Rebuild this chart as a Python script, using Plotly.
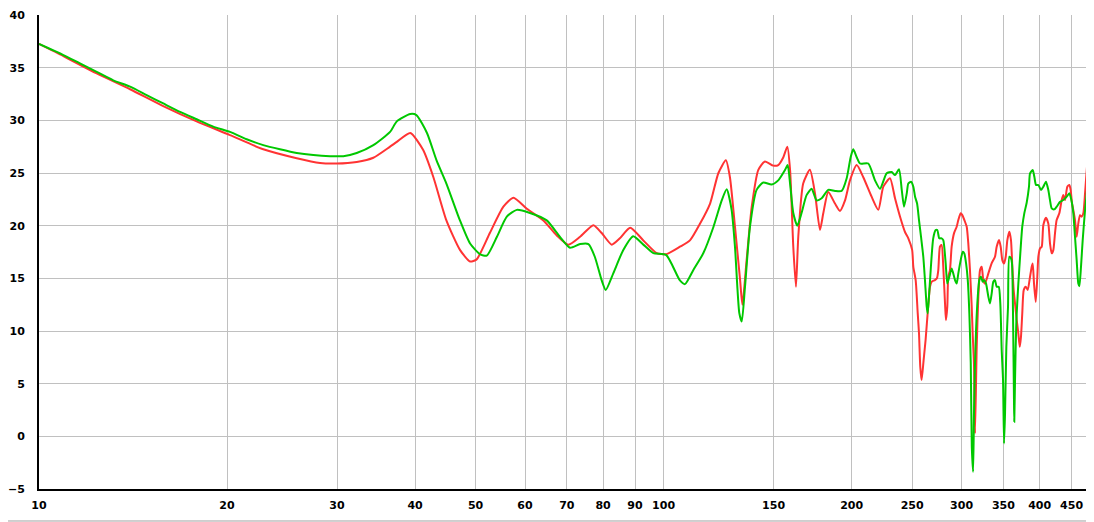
import plotly.graph_objects as go

# ---- data (frequency in Hz, level in dB) ----
red_freq = [10.0, 10.94, 12.37, 13.99, 15.81, 17.88, 20.22, 22.86, 25.86, 28.18,
            29.97, 32.26, 34.30, 36.48, 37.4, 39.3, 41.2, 42.8, 44.9, 47.2,
            49.0, 50.2, 52.7, 55.4, 57.5, 60.4, 64.2, 67.4, 70.4, 73.5,
            77.2, 79.6, 82.6, 85.1, 88.4, 92.8, 97.5, 101, 106.2, 110.2,
            114.4, 118.7, 122.4, 125.8, 127.7, 130.1, 132.6, 133.7, 135.8, 138.4,
            141.8, 145.3, 149.8, 152.6, 155.5, 157.8, 159.4, 161.3, 162.9, 164.3,
            167.3, 171.5, 174.7, 178.0, 180.2, 183.5, 188.1, 191.6, 195.2, 198.8,
            203.8, 208.8, 215.3, 220.7, 224.8, 230.4, 234.7, 239.1, 243.5, 246.5,
            250.0, 251.1, 253.3, 255.2, 256.4, 257.6, 258.9, 260.8, 262.7, 264.7,
            267.0, 268.6, 271.9, 273.9, 275.3, 277.0, 278.7, 280.4, 282.2, 283.2,
            284.6, 285.6, 287.4, 289.2, 291.7, 294.6, 296.4, 299.0, 300.8, 303.8,
            305.7, 307.5, 309.4, 311.4, 312.5, 314.0, 315.2, 317.2, 319.1, 321.1,
            323.1, 325.0, 327.0, 331.1, 335.1, 339.3, 341.4, 344.4, 346.5, 348.6,
            350.8, 353.0, 355.1, 357.7, 359.9, 361.7, 363.5, 365.3, 367.6, 369.8,
            371.7, 373.4, 375.2, 377.2, 380.0, 382.8, 386.1, 388.5, 389.9, 391.8,
            394.3, 396.6, 398.1, 400.6, 403.1, 405.5, 409.5, 413.0, 415.6, 418.2,
            420.7, 423.3, 425.9, 430.1, 433.9, 436.5, 439.2, 443.0, 446.3, 448.5,
            450.7, 452.9, 455.7, 458.5, 461.3, 464.2, 467.1, 469.9, 472.9, 475.9,
            478.6, 481.6, 484.6, 487.5, 495.0]
red_db = [37.25, 36.1, 34.45, 32.95, 31.35, 29.9, 28.6, 27.25, 26.4, 25.95,
          25.9, 26.05, 26.45, 27.5, 27.95, 28.8, 27.2, 24.6, 20.5, 17.7,
          16.6, 16.8, 19.3, 21.8, 22.65, 21.6, 20.5, 19.1, 18.2, 18.95,
          20.05, 19.3, 18.2, 18.8, 19.8, 18.6, 17.4, 17.3, 18.0, 18.6,
          20.2, 22.1, 25.0, 26.2, 24.6, 19.9, 14.8, 12.5, 16.7, 21.8,
          25.3, 26.1, 25.7, 25.75, 26.5, 27.5, 25.3, 18.0, 14.2, 18.95,
          24.0, 25.3, 23.1, 19.6, 21.2, 23.2, 22.1, 21.4, 22.4, 24.3,
          25.75, 24.6, 22.75, 21.5, 23.7, 24.5, 22.6, 20.85, 19.4, 18.8,
          17.7, 16.1, 14.8, 11.67, 9.77, 6.6, 5.34, 7.24, 9.14, 11.67,
          14.2, 14.67, 14.83, 15.0, 15.78, 18.0, 18.16, 16.1, 12.62, 11.03,
          12.3, 15.15, 15.78, 18.0, 19.27, 19.9, 20.53, 21.17, 21.0, 20.37,
          19.9, 18.32, 15.78, 12.3, 9.77, 6.92, 0.27, 8.5, 13.25, 15.78,
          16.1, 14.83, 14.5, 15.47, 16.42, 17.05, 18.0, 18.63, 18.0, 16.73,
          16.42, 17.05, 18.63, 19.42, 18.63, 16.1, 13.88, 12.62, 11.03, 9.77,
          8.5, 9.45, 11.67, 13.88, 14.2, 13.9, 15.15, 16.1, 16.42, 14.5,
          12.77, 15.15, 17.05, 17.84, 18.0, 20.06, 20.75, 20.2, 18.32, 17.37,
          17.68, 19.27, 20.53, 21.17, 22.43, 22.9, 22.43, 23.7, 23.86, 23.38,
          22.12, 21.48, 20.53, 18.95, 20.22, 21.0, 20.85, 21.17, 23.07, 25.28,
          27.18, 28.13, 28.5, 28.77, 29.2]

green_freq = [10.0, 10.94, 11.63, 12.37, 13.15, 13.99, 14.87, 15.81, 16.82, 17.88,
              19.01, 20.22, 21.50, 22.86, 24.31, 25.86, 27.49, 29.24, 30.71, 32.26,
              34.30, 36.48, 37.4, 39.3, 40.2, 41.8, 43.3, 44.9, 47.2, 49.0,
              50.8, 52.1, 54.1, 56.1, 58.2, 61.1, 65.0, 68.2, 70.8, 73.5,
              75.8, 77.6, 79.6, 80.8, 83.1, 86.2, 89.4, 92.8, 96.3, 101,
              106.2, 108.2, 111.6, 115.8, 120.2, 123.9, 126.2, 128.5, 130.1, 132.2,
              133.4, 135.0, 137.5, 140.9, 144.4, 148.9, 152.6, 156.5, 158.0, 159.4,
              161.3, 163.7, 166.3, 169.4, 172.6, 175.8, 179.1, 183.5, 188.1, 192.8,
              196.4, 199.3, 201.2, 203.8, 206.3, 212.7, 218.0, 222.1, 227.6, 231.8,
              234.7, 238.2, 240.6, 242.6, 245.1, 246.5, 249.0, 251.1, 252.7, 254.6,
              256.4, 258.3, 260.5, 262.1, 263.8, 264.7, 266.0, 267.9, 270.2, 272.6,
              274.3, 276.3, 278.7, 280.4, 282.9, 284.6, 286.7, 289.2, 290.9, 292.8,
              294.6, 296.4, 299.0, 301.3, 303.0, 305.0, 306.9, 308.7, 310.3, 311.5,
              313.0, 314.0, 315.2, 316.4, 318.4, 320.2, 322.2, 324.3, 326.2, 328.3,
              331.1, 333.1, 335.2, 337.2, 339.3, 341.4, 344.0, 346.0, 347.8, 349.5,
              350.8, 352.1, 353.8, 356.0, 357.7, 359.9, 361.3, 362.6, 363.9, 364.3,
              365.3, 367.0, 369.8, 372.5, 375.2, 378.0, 381.4, 384.6, 386.1, 389.9,
              392.3, 394.7, 398.1, 402.1, 405.5, 409.5, 413.0, 415.6, 418.2, 422.2,
              425.9, 431.3, 436.5, 442.0, 446.3, 450.2, 452.9, 455.7, 458.5, 461.3,
              463.1, 465.9, 468.8, 472.9, 475.9, 478.6, 481.6, 484.6, 488.8, 495.0]
green_db = [37.25, 36.2, 35.4, 34.6, 33.8, 33.2, 32.4, 31.6, 30.8, 30.1,
            29.4, 28.9, 28.2, 27.65, 27.25, 26.9, 26.7, 26.6, 26.6, 26.9,
            27.65, 28.9, 29.9, 30.6, 30.5, 28.8, 26.2, 24.0, 20.5, 18.3,
            17.3, 17.15, 18.95, 20.85, 21.5, 21.2, 20.5, 18.95, 17.9, 18.25,
            18.25, 17.05, 14.8, 13.9, 15.5, 17.7, 19.0, 18.2, 17.4, 17.2,
            14.8, 14.45, 15.8, 17.4, 19.9, 22.4, 23.45, 21.5, 18.0, 11.7,
            10.9, 14.2, 19.9, 23.4, 24.1, 23.9, 24.3, 25.3, 25.75, 24.0,
            21.2, 20.0, 21.2, 22.9, 23.5, 22.4, 22.6, 23.4, 23.3, 23.3,
            24.5, 26.5, 27.25, 26.5, 25.9, 25.9, 24.3, 23.5, 24.97, 25.1,
            24.8, 25.35, 23.4, 21.8, 23.07, 24.0, 24.17, 23.7, 22.75, 22.1,
            20.53, 18.95, 17.05, 14.83, 12.3, 11.67, 13.25, 16.1, 18.8, 19.58,
            19.58, 18.8, 18.8, 18.63, 16.42, 14.5, 15.15, 15.94, 15.47, 14.83,
            14.5, 15.47, 16.73, 17.52, 17.37, 16.42, 14.83, 11.67, 6.92, -0.99,
            -3.37, 2.17, 6.92, 10.09, 13.25, 14.83, 15.15, 14.67, 14.83, 14.5,
            13.25, 12.62, 13.57, 14.67, 14.83, 14.2, 14.2, 12.62, 8.19, 5.34,
            -0.67, 2.17, 8.5, 12.3, 17.05, 16.9, 16.4, 11.67, 3.44, 1.38,
            5.34, 10.72, 14.5, 17.37, 19.9, 21.17, 22.2, 23.7, 24.97, 25.28,
            24.64, 23.86, 23.86, 23.38, 23.7, 24.17, 23.38, 22.43, 21.64, 21.55,
            21.8, 22.27, 22.43, 22.75, 23.07, 22.27, 21.17, 18.95, 16.73, 14.5,
            14.26, 16.1, 18.63, 21.48, 23.07, 24.97, 25.92, 26.07, 25.6, 25.4]

x_ticks = [10, 20, 30, 40, 50, 60, 70, 80, 90, 100, 150, 200, 250, 300, 350, 400, 450]
y_ticks = [-5, 0, 5, 10, 15, 20, 25, 30, 35, 40]

RED = "#ff3333"
GREEN = "#00c800"
FONT = dict(family="DejaVu Sans", size=11, color="black", weight="bold")

fig = go.Figure()
fig.add_trace(go.Scatter(x=red_freq, y=red_db, mode="lines",
                         line=dict(color=RED, width=2, shape="spline", smoothing=0.6),
                         showlegend=False))
fig.add_trace(go.Scatter(x=green_freq, y=green_db, mode="lines",
                         line=dict(color=GREEN, width=2, shape="spline", smoothing=0.6),
                         showlegend=False))

# the page body adds an 8px offset, so the figure is sized to compensate
fig.update_layout(
    width=1086, height=514,
    margin=dict(l=31, r=0, t=7, b=33, pad=0, autoexpand=False),
    paper_bgcolor="white", plot_bgcolor="white",
    showlegend=False,
)
fig.update_xaxes(
    type="log", range=[1, 2.6891], automargin=False,
    tickvals=x_ticks, ticktext=[str(v) for v in x_ticks],
    showgrid=True, gridcolor="#c0c0c0", gridwidth=1,
    showline=True, linecolor="black", linewidth=2,
    ticks="", tickfont=FONT, ticklabelstandoff=5,
    zeroline=False,
)
fig.update_yaxes(
    range=[-5, 40], tickvals=y_ticks, automargin=False,
    showgrid=True, gridcolor="#c0c0c0", gridwidth=1,
    showline=True, linecolor="black", linewidth=2,
    ticks="", tickfont=FONT, ticklabelstandoff=10,
    zeroline=False,
)
# partially visible last tick label (500 lies just past the right edge)
fig.add_annotation(text="500", xref="paper", yref="paper", x=1.0047, y=0,
                   yshift=-13, showarrow=False, font=FONT,
                   xanchor="center", yanchor="middle")
# thin frame line at the very bottom
fig.add_shape(type="line", xref="paper", yref="paper", x0=-0.05, x1=1.01,
              y0=-0.0675, y1=-0.0675, line=dict(color="#a0a0a0", width=1))

fig.write_html("out.html", config={"displayModeBar": False})
